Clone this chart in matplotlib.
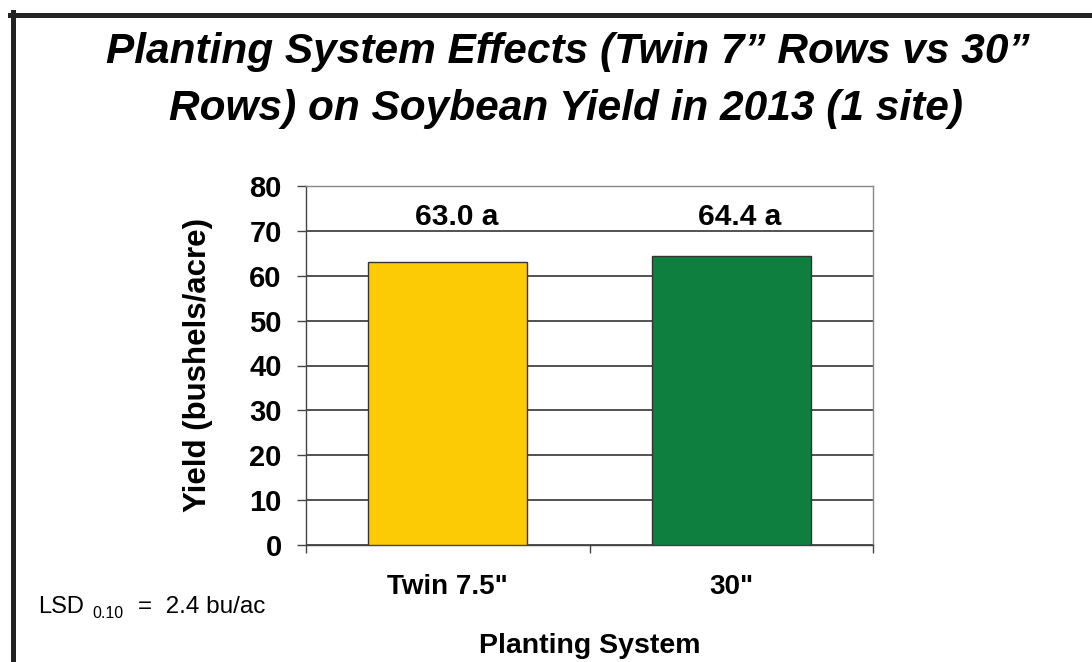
import matplotlib
matplotlib.use("Agg")
import matplotlib.pyplot as plt
from matplotlib.lines import Line2D

# yield by planting system
systems = ['Twin 7.5"', '30"']
yields = [63.0, 64.4]
letters = ['a', 'a']
bar_colors = ['#FDCB06', '#0E7F3F']
yticks = [0, 10, 20, 30, 40, 50, 60, 70, 80]

plt.rcParams['font.family'] = ['Liberation Sans', 'DejaVu Sans']

W, H = 1092, 662
fig = plt.figure(figsize=(W / 100, H / 100), dpi=100)
ax = fig.add_axes([306 / W, 1 - 545 / H, (873 - 306) / W, (545 - 186) / H])

x = list(range(len(systems)))
ax.bar(x, yields, width=0.56, color=bar_colors, edgecolor='#333333',
       linewidth=1.0, zorder=3)

# value labels with significance letters
for xi, v, l in zip(x, yields, letters):
    ax.text(xi + 0.03, 73, f'{v:.1f} {l}', ha='center', va='center',
            fontsize=21.5, fontweight='bold', zorder=4)

ax.set_xlim(-0.5, len(systems) - 0.5)
ax.set_ylim(0, 80)
ax.set_yticks(yticks)
ax.yaxis.grid(True, color='#444444', linewidth=1.3, zorder=0)
ax.set_axisbelow(True)

ax.set_xticks(x)
ax.set_xticklabels(systems, fontsize=20, fontweight='bold')
ax.set_xticks([-0.5, 0.5, 1.5], minor=True)
ax.tick_params(axis='x', which='major', length=0, pad=21)
ax.tick_params(axis='x', which='minor', length=6, width=1.0, color='#444444')
ax.tick_params(axis='y', length=6.5, width=1.0, color='#444444', pad=11,
               labelsize=21)
for lbl in ax.get_yticklabels():
    lbl.set_fontweight('bold')

ax.spines['left'].set_color('#444444')
ax.spines['bottom'].set_color('#444444')
ax.spines['top'].set_color('#888888')
ax.spines['right'].set_color('#888888')
for s in ax.spines.values():
    s.set_linewidth(1.0)

ax.set_ylabel('Yield (bushels/acre)', fontsize=22.5, fontweight='bold')
ax.yaxis.set_label_coords(-0.164, 0.5)
ax.set_xlabel('Planting System', fontsize=20.5, fontweight='bold')
ax.xaxis.set_label_coords(0.5, -0.245)

# two-line title
fig.text(568 / W, 1 - 63 / H, 'Planting System Effects (Twin 7\u201d Rows vs 30\u201d',
         ha='center', va='baseline', fontsize=30.5, fontweight='bold',
         fontstyle='italic')
fig.text(566 / W, 1 - 120 / H, 'Rows) on Soybean Yield in 2013 (1 site)',
         ha='center', va='baseline', fontsize=30.5, fontweight='bold',
         fontstyle='italic')

# LSD note
fig.text(38 / W, 1 - 613 / H, 'LSD', ha='left', va='baseline', fontsize=17)
fig.text(92 / W, 1 - 618 / H, '0.10', ha='left', va='baseline', fontsize=11.5)
fig.text(138 / W, 1 - 613 / H, '=  2.4 bu/ac', ha='left', va='baseline',
         fontsize=17.5)

# frame lines at top and left
fig.add_artist(Line2D([10 / W, 1], [1 - 14.5 / H, 1 - 14.5 / H],
                      transform=fig.transFigure, color='#222222', linewidth=3.6))
fig.add_artist(Line2D([12.5 / W, 12.5 / W], [1 - 12 / H, 0],
                      transform=fig.transFigure, color='#222222', linewidth=3.6))

fig.savefig('out.png', dpi=100)
